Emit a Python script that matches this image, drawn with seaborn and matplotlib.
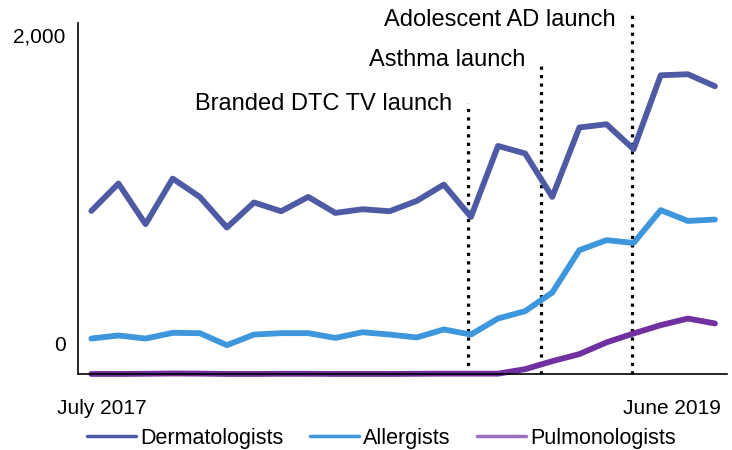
import seaborn as sns
import pandas as pd
import numpy as np
import matplotlib.pyplot as plt

# monthly values, July 2017 .. June 2019
months = list(range(24))
derm = [859, 1037, 773, 1069, 950, 751, 914, 857, 950, 846, 870, 857,
        924, 1030, 820, 1281, 1232, 950, 1401, 1422, 1260, 1740, 1747, 1669]
allerg = [30, 50, 30, 67, 65, -13, 56, 65, 65, 34, 71, 56,
          37, 89, 56, 160, 208, 329, 604, 669, 651, 864, 794, 803]
pulmo = [-200, -200, -199, -197, -198, -200, -200, -199, -199, -200, -200, -200,
         -199, -198, -198, -198, -169, -117, -71, 5, 63, 117, 160, 128]
series = ['Dermatologists', 'Allergists', 'Pulmonologists']
colors = ['#4F5AA5', '#3E96DC', '#7030A0']

# launch markers (month index), dotted line top and label height
events = ['Branded DTC TV launch', 'Asthma launch', 'Adolescent AD launch']
event_x = [13.9, 16.6, 19.94]
event_top = [1560, 1820, 2140]
event_label_y = [1552, 1838, 2097]

df = pd.DataFrame({'month': months * 3,
                   'value': derm + allerg + pulmo,
                   'group': sum([[s] * 24 for s in series], [])})

sns.set_style('white')
plt.rcParams['font.family'] = ['Liberation Sans', 'DejaVu Sans']
plt.rcParams['text.color'] = 'black'
plt.rcParams['xtick.color'] = 'black'
plt.rcParams['ytick.color'] = 'black'

fig = plt.figure(figsize=(7.32, 4.5), dpi=100)
ax = fig.add_axes([0.107, 0.169, 0.886, 0.78])

sns.lineplot(data=df, x='month', y='value', hue='group', hue_order=series,
             palette=colors, linewidth=4.2, ax=ax, legend=False, clip_on=False)

ax.vlines(event_x, -200, event_top, colors='black', linestyles=':',
          linewidth=2.3, clip_on=False, zorder=1)
for ex, ey, lab in zip(event_x, event_label_y, events):
    ax.text(ex - 0.6, ey, lab, ha='right', va='center', fontsize=17)

ax.set_xlim(-0.48, 23.44)
ax.set_ylim(-200, 2080)
ax.set_yticks([0, 2000])
ax.set_yticklabels(['0', '2,000'])
ax.set_xticks([0.4, 21.4])
ax.set_xticklabels(['July 2017', 'June 2019'])
ax.tick_params(axis='both', length=0, labelsize=15)
ax.tick_params(axis='x', pad=18)
ax.tick_params(axis='y', pad=9)
ax.set_xlabel('')
ax.set_ylabel('')
for s in ['top', 'right']:
    ax.spines[s].set_visible(False)
for s in ['left', 'bottom']:
    ax.spines[s].set_color('black')
    ax.spines[s].set_linewidth(1.2)

handles = [plt.Line2D([], [], color=c, lw=2.5) for c in ['#4F5AA5', '#3E96DC', '#9B6FC0']]
fig.legend(handles, series, loc='center', bbox_to_anchor=(0.521, 0.026), ncol=3,
           frameon=False, fontsize=15.5, handlelength=2.3, handletextpad=0.2,
           columnspacing=1.2)

fig.savefig('out.png', dpi=100)
